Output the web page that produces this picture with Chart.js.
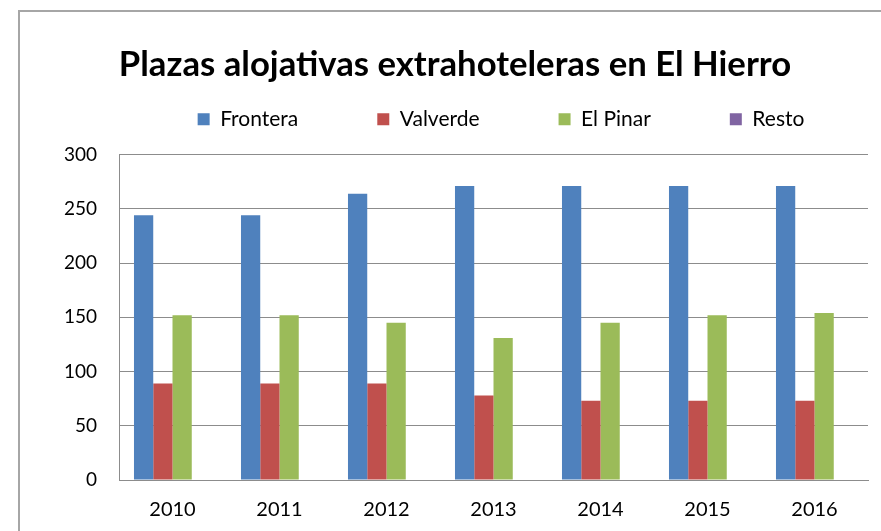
<!DOCTYPE html>
<html>
<head>
<meta charset="utf-8">
<script src="https://cdn.jsdelivr.net/npm/chart.js@4/dist/chart.umd.min.js"></script>
<style>
  html, body { margin: 0; padding: 0; background: #fff; }
  #wrap { position: relative; width: 881px; height: 531px; overflow: hidden; }
  #frame { position: absolute; left: 18px; top: 10px; width: 900px; height: 600px; border: 2px solid #a6a6a6; box-sizing: border-box; }
  #c { position: absolute; left: 0; top: 0; }
</style>
</head>
<body>
<div id="wrap">
  <div id="frame"></div>
  <canvas id="c" width="881" height="531"></canvas>
</div>
<script>
const chartTitle = 'Plazas alojativas extrahoteleras en El Hierro';
const years = ['2010', '2011', '2012', '2013', '2014', '2015', '2016'];
const frontera = [244, 244, 264, 271, 271, 271, 271];
const valverde = [89, 89, 89, 78, 73, 73, 73];
const elPinar = [152, 152, 145, 131, 145, 152, 154];
const resto = [0, 0, 0, 0, 0, 0, 0];
const seriesNames = ['Frontera', 'Valverde', 'El Pinar', 'Resto'];
const yTicks = [0, 50, 100, 150, 200, 250, 300];

const FONT = 'Lato, "Open Sans", sans-serif';
const colors = ['#4F81BD', '#C0504D', '#9BBB59', '#8064A2'];
const LEGEND_DX = 67;   // shift legend right
const LEGEND_DY = -56;  // shift legend top up
const TITLE_DX = 21;

const shiftPlugin = {
  id: 'shiftBoxes',
  afterLayout(chart) {
    const lg = chart.legend;
    if (lg) {
      lg.left += LEGEND_DX; lg.right += LEGEND_DX;
      lg.top += LEGEND_DY;
    }
    const t = chart.titleBlock;
    if (t) { t.left += TITLE_DX; t.right += TITLE_DX; }
  }
};

new Chart(document.getElementById('c'), {
  type: 'bar',
  data: {
    labels: years,
    datasets: [frontera, valverde, elPinar, resto].map((d, i) => ({
      label: seriesNames[i],
      data: d,
      backgroundColor: colors[i],
      borderWidth: 0,
      categoryPercentage: 0.72,
      barPercentage: 1.0
    }))
  },
  options: {
    responsive: false,
    animation: false,
    layout: { padding: { top: 0, right: 13, bottom: 0, left: 0 } },
    plugins: {
      title: {
        display: true,
        text: chartTitle,
        color: '#000',
        font: { family: FONT, size: 34.7, weight: 'bold' },
        lineHeight: 42 / 34.7,
        padding: { top: 44, bottom: 0 }
      },
      legend: {
        display: true,
        position: 'top',
        maxHeight: 69,
        labels: {
          color: '#000',
          font: { family: FONT, size: 21 },
          boxWidth: 12,
          boxHeight: 12,
          padding: 79
        }
      },
      tooltip: { enabled: false }
    },
    scales: {
      x: {
        grid: { display: false, drawTicks: false },
        border: { display: true, color: '#8c8c8c', width: 1 },
        ticks: { color: '#000', font: { family: FONT, size: 20 }, padding: 18 },
        afterFit(s) { s.height = 51; }
      },
      y: {
        min: 0, max: 300,
        afterBuildTicks(s) { s.ticks = yTicks.map(v => ({ value: v })); },
        grid: { color: '#8c8c8c', lineWidth: 1, drawTicks: false },
        border: { display: true, color: '#8c8c8c', width: 1 },
        ticks: { color: '#000', font: { family: FONT, size: 19 }, padding: 22 },
        afterFit(s) { s.width = 119; }
      }
    }
  },
  plugins: [shiftPlugin]
});
</script>
</body>
</html>
